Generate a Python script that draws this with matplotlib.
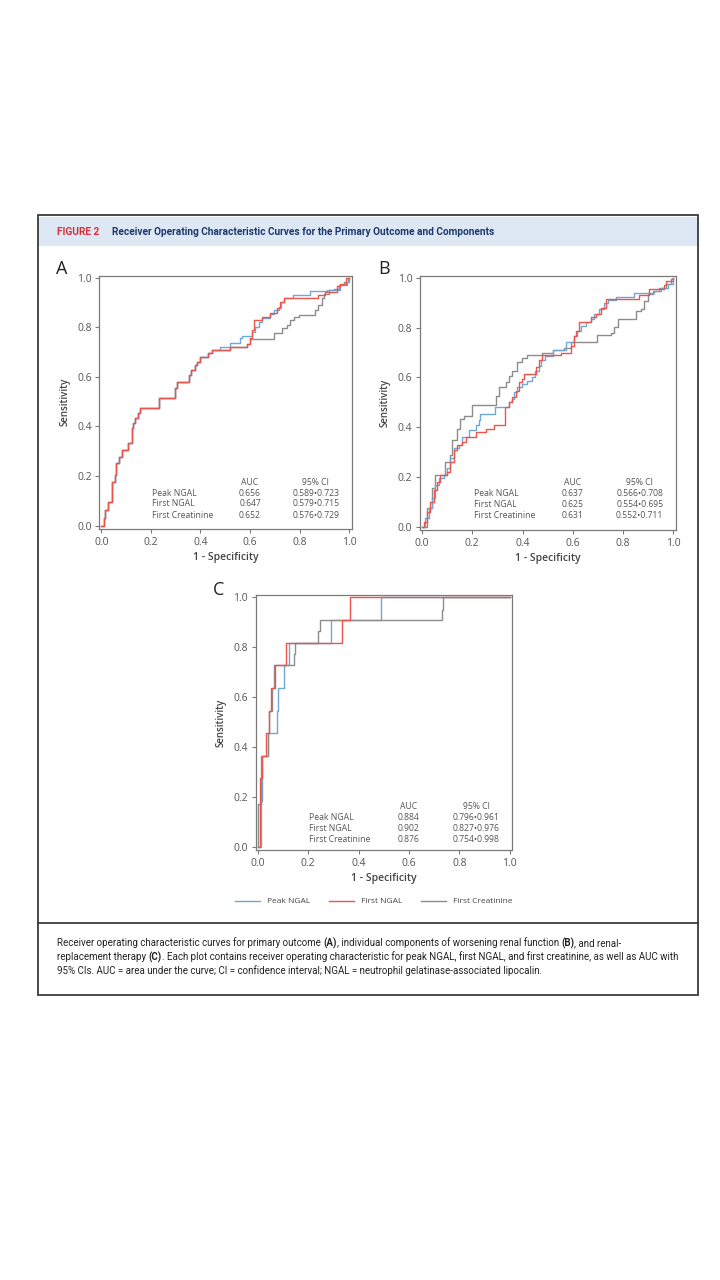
import matplotlib
matplotlib.use('Agg')
import matplotlib.pyplot as plt
from matplotlib.patches import Rectangle
from matplotlib.lines import Line2D

plt.rcParams['font.family'] = ['Open Sans', 'DejaVu Sans']

# ---- data: ROC steps (fpr, tpr) ----
# panel A - the three curves share the first part
a_base_fpr = [0, 0.011, 0.017, 0.027, 0.042, 0.044, 0.054, 0.060, 0.071, 0.084, 0.107, 0.122, 0.129,
              0.138, 0.147, 0.158, 0.232, 0.299, 0.306, 0.353, 0.362, 0.379, 0.386, 0.399, 0.429, 0.446]
a_base_tpr = [0, 0.030, 0.063, 0.097, 0.137, 0.177, 0.204, 0.251, 0.278, 0.305, 0.332, 0.392, 0.413,
              0.433, 0.453, 0.473, 0.516, 0.554, 0.581, 0.608, 0.628, 0.648, 0.661, 0.681, 0.695, 0.708]
a_peak_fpr = a_base_fpr + [0.478, 0.521, 0.561, 0.568, 0.608, 0.621, 0.635, 0.648, 0.680, 0.695, 0.715,
                           0.725, 0.735, 0.773, 0.843, 0.910, 0.964, 0.990, 1.0]
a_peak_tpr = a_base_tpr + [0.722, 0.738, 0.756, 0.765, 0.782, 0.802, 0.823, 0.840, 0.855, 0.870, 0.883,
                           0.903, 0.917, 0.933, 0.946, 0.953, 0.970, 0.984, 1.0]
a_first_fpr = a_base_fpr + [0.521, 0.588, 0.601, 0.608, 0.615, 0.648, 0.682, 0.709, 0.722, 0.735, 0.874,
                            0.903, 0.950, 0.964, 0.988, 1.0]
a_first_tpr = a_base_tpr + [0.722, 0.735, 0.756, 0.789, 0.832, 0.843, 0.859, 0.877, 0.903, 0.917, 0.930,
                            0.944, 0.967, 0.977, 0.998, 1.0]
a_creat_fpr = a_base_fpr + [0.521, 0.588, 0.601, 0.695, 0.729, 0.749, 0.762, 0.776, 0.796, 0.863, 0.876,
                            0.890, 0.897, 0.917, 0.937, 0.957, 0.977, 0.997, 1.0]
a_creat_tpr = a_base_tpr + [0.722, 0.735, 0.752, 0.776, 0.796, 0.809, 0.829, 0.843, 0.852, 0.870, 0.890,
                            0.917, 0.937, 0.950, 0.957, 0.970, 0.984, 0.998, 1.0]

# panel B
b_peak_fpr = [0, 0.013, 0.027, 0.040, 0.053, 0.066, 0.086, 0.100, 0.113, 0.126, 0.146, 0.160, 0.186, 0.213,
              0.226, 0.231, 0.291, 0.345, 0.358, 0.365, 0.378, 0.398, 0.418, 0.438, 0.451, 0.464, 0.473,
              0.490, 0.519, 0.572, 0.605, 0.618, 0.632, 0.652, 0.672, 0.685, 0.705, 0.725, 0.738, 0.771,
              0.844, 0.924, 0.951, 0.977, 0.997, 1.0]
b_peak_tpr = [0, 0.033, 0.073, 0.113, 0.167, 0.194, 0.207, 0.234, 0.274, 0.314, 0.327, 0.360, 0.387, 0.407,
              0.427, 0.454, 0.480, 0.500, 0.514, 0.541, 0.561, 0.574, 0.587, 0.601, 0.627, 0.647, 0.670,
              0.687, 0.712, 0.741, 0.768, 0.788, 0.808, 0.821, 0.834, 0.855, 0.875, 0.901, 0.910, 0.924,
              0.941, 0.948, 0.961, 0.974, 0.988, 1.0]
b_first_fpr = [0, 0.007, 0.020, 0.033, 0.047, 0.060, 0.073, 0.100, 0.113, 0.126, 0.140, 0.160, 0.173,
               0.213, 0.253, 0.286, 0.330, 0.346, 0.359, 0.372, 0.386, 0.399, 0.406, 0.452, 0.465, 0.479,
               0.552, 0.592, 0.605, 0.612, 0.625, 0.672, 0.691, 0.711, 0.731, 0.864, 0.904, 0.964, 0.971,
               0.991, 1.0]
b_first_tpr = [0, 0.020, 0.060, 0.100, 0.147, 0.180, 0.207, 0.220, 0.260, 0.307, 0.327, 0.340, 0.360,
               0.380, 0.394, 0.407, 0.480, 0.500, 0.520, 0.547, 0.580, 0.594, 0.614, 0.641, 0.668, 0.688,
               0.698, 0.728, 0.768, 0.788, 0.821, 0.841, 0.854, 0.881, 0.915, 0.931, 0.957, 0.970, 0.988,
               0.997, 1.0]
b_creat_fpr = [0, 0.020, 0.040, 0.053, 0.093, 0.113, 0.120, 0.140, 0.153, 0.166, 0.200, 0.293, 0.306,
               0.332, 0.346, 0.359, 0.379, 0.399, 0.419, 0.479, 0.519, 0.565, 0.591, 0.697, 0.751, 0.765,
               0.778, 0.851, 0.871, 0.884, 0.898, 0.918, 0.944, 0.971, 0.991, 1.0]
b_creat_tpr = [0, 0.073, 0.154, 0.207, 0.260, 0.287, 0.347, 0.394, 0.434, 0.443, 0.487, 0.527, 0.563,
               0.580, 0.607, 0.627, 0.663, 0.677, 0.690, 0.700, 0.710, 0.717, 0.744, 0.771, 0.780, 0.801,
               0.834, 0.868, 0.875, 0.908, 0.935, 0.948, 0.961, 0.975, 0.988, 1.0]

# panel C (11 events, steps of 1/11)
c_peak_fpr = [0, 0.012, 0.016, 0.039, 0.076, 0.081, 0.105, 0.125, 0.291, 0.490, 1.0]
c_peak_tpr = [0, 0.182, 0.364, 0.455, 0.545, 0.636, 0.727, 0.818, 0.909, 1.0, 1.0]
c_first_fpr = [0, 0.008, 0.010, 0.016, 0.032, 0.045, 0.054, 0.068, 0.112, 0.333, 0.368, 1.0]
c_first_tpr = [0, 0.091, 0.273, 0.364, 0.455, 0.545, 0.636, 0.727, 0.818, 0.909, 1.0, 1.0]
c_creat_fpr = [0, 0.002, 0.012, 0.039, 0.045, 0.058, 0.065, 0.142, 0.147, 0.238, 0.248, 0.730, 0.736, 1.0]
c_creat_tpr = [0, 0.170, 0.364, 0.455, 0.545, 0.636, 0.727, 0.773, 0.818, 0.864, 0.909, 0.950, 1.0, 1.0]

row_names = ['Peak NGAL', 'First NGAL', 'First Creatinine']
a_auc = ['0.656', '0.647', '0.652']
a_ci = ['0.589\u20220.723', '0.579\u20220.715', '0.576\u20220.729']
b_auc = ['0.637', '0.625', '0.631']
b_ci = ['0.566\u20220.708', '0.554\u20220.695', '0.552\u20220.711']
c_auc = ['0.884', '0.902', '0.876']
c_ci = ['0.796\u20220.961', '0.827\u20220.976', '0.754\u20220.998']

ticks = [0, 0.2, 0.4, 0.6, 0.8, 1.0]
tick_labels = ['0.0', '0.2', '0.4', '0.6', '0.8', '1.0']

blue = '#6ea7d8'
red = '#e8564c'
grey = '#8d8d8d'
axis_col = '#7a7a7a'
text_col = '#555555'

W, H = 720, 1280
fig = plt.figure(figsize=(7.2, 12.8), dpi=100)
renderer = fig.canvas.get_renderer()
cond = ['Roboto', 'DejaVu Sans']


def px_box(l, t, r, b):
    return [l / W, 1 - b / H, (r - l) / W, (b - t) / H]


def draw_panel(ax, curves, auc, ci, txt_y):
    for fpr, tpr, col, z in curves:
        ax.plot(fpr, tpr, drawstyle='steps-post', color=col, lw=1.0, zorder=z)
    ax.set_xlim(-0.008, 1.01)
    ax.set_ylim(-0.014, 1.009)
    ax.set_xticks(ticks)
    ax.set_xticklabels(tick_labels)
    ax.set_yticks(ticks)
    ax.set_yticklabels(tick_labels)
    for s in ax.spines.values():
        s.set_color(axis_col)
        s.set_linewidth(0.9)
    ax.tick_params(direction='out', length=3, width=0.8, color=axis_col,
                   labelsize=7.5, labelcolor=text_col, pad=2.5)
    ax.set_xlabel('1 - Specificity', fontsize=7.5, color='#444444', fontweight='semibold', labelpad=3)
    ax.set_ylabel('Sensitivity', fontsize=7, color='#444444', fontweight='semibold', labelpad=5)
    # little AUC table
    fs = 6.2
    ax.text(0.60, txt_y[0], 'AUC', fontsize=fs, ha='center', va='center', color=text_col)
    ax.text(0.866, txt_y[0], '95% CI', fontsize=fs, ha='center', va='center', color=text_col)
    for i in range(3):
        ax.text(0.205, txt_y[i + 1], row_names[i], fontsize=fs, ha='left', va='center', color=text_col)
        ax.text(0.60, txt_y[i + 1], auc[i], fontsize=fs, ha='center', va='center', color=text_col)
        ax.text(0.866, txt_y[i + 1], ci[i], fontsize=fs, ha='center', va='center', color=text_col)


def runs_width(runs, size, y):
    # draw the pieces side by side, return the artists and the total width in px
    arts = []
    x = 0
    for s, bold in runs:
        t = fig.text(0, 1 - y / H, s, fontsize=size, fontweight='bold' if bold else 'normal',
                     family=cond, va='center')
        arts.append(t)
        x += t.get_window_extent(renderer).width
    return arts, x


def place_runs(runs, x0, y, size, color):
    arts, _ = runs_width(runs, size, y)
    x = x0
    for t in arts:
        t.set_x(x / W)
        t.set_color(color)
        x += t.get_window_extent(renderer).width


axA = fig.add_axes(px_box(99.3, 275.7, 351.7, 529))
axB = fig.add_axes(px_box(420, 275.7, 676, 530))
axC = fig.add_axes(px_box(255.7, 595, 512.3, 850))

draw_panel(axA, [(a_creat_fpr, a_creat_tpr, grey, 2), (a_peak_fpr, a_peak_tpr, blue, 3),
                 (a_first_fpr, a_first_tpr, red, 4)], a_auc, a_ci, [0.175, 0.129, 0.087, 0.042])
draw_panel(axB, [(b_creat_fpr, b_creat_tpr, grey, 2), (b_peak_fpr, b_peak_tpr, blue, 3),
                 (b_first_fpr, b_first_tpr, red, 4)], b_auc, b_ci, [0.176, 0.131, 0.090, 0.044])
draw_panel(axC, [(c_peak_fpr, c_peak_tpr, blue, 2), (c_creat_fpr, c_creat_tpr, grey, 3),
                 (c_first_fpr, c_first_tpr, red, 4)], c_auc, c_ci, [0.160, 0.116, 0.072, 0.029])

for letter, x, y in [('A', 62, 269), ('B', 384, 269), ('C', 219, 590)]:
    fig.text(x / W, 1 - y / H, letter, fontsize=13, ha='center', va='center', color='#222222')

# legend
handles = [Line2D([], [], color=blue, lw=1.0), Line2D([], [], color=red, lw=1.0), Line2D([], [], color=grey, lw=1.0)]
leg = fig.legend(handles, ['Peak NGAL', 'First NGAL', 'First Creatinine'], loc='center',
                 bbox_to_anchor=(374 / W, 1 - 901.5 / H), ncol=3, frameon=False, fontsize=6,
                 handlelength=3.0, handletextpad=0.8, columnspacing=2.3)
for t in leg.get_texts():
    t.set_color('#444444')

# frame, header band, divider
fig.add_artist(Rectangle((39 / W, 1 - 246 / H), 658 / W, 29 / H, transform=fig.transFigure,
                         facecolor='#dde8f4', edgecolor='none', zorder=0))
fig.add_artist(Rectangle((38 / W, 1 - 995 / H), 660 / W, 780 / H, transform=fig.transFigure,
                         fill=False, edgecolor='#3a3a3a', lw=1.3))
fig.add_artist(Line2D([38 / W, 698 / W], [1 - 923 / H, 1 - 923 / H], transform=fig.transFigure,
                      color='#3a3a3a', lw=1.3))

# header, sized so the runs span the same width as in the picture
head_a = [('FIGURE 2', True)]
head_b = [('Receiver Operating Characteristic Curves for the Primary Outcome and Components', True)]
tmp, wb = runs_width(head_b, 7, 232)
for t in tmp:
    t.remove()
size_head = 7 * 384 / wb
place_runs(head_a, 57, 232, size_head, '#d7303b')
place_runs(head_b, 112.5, 232, size_head, '#1d3a6e')

# caption with bold panel letters
caption = [
    [('Receiver operating characteristic curves for primary outcome ', False), ('(A)', True),
     (', individual components of worsening renal function ', False), ('(B)', True), (', and renal-', False)],
    [('replacement therapy ', False), ('(C)', True),
     ('. Each plot contains receiver operating characteristic for peak NGAL, first NGAL, and first creatinine, as well as AUC with', False)],
    [('95% CIs. AUC = area under the curve; CI = confidence interval; NGAL = neutrophil gelatinase-associated lipocalin.', False)],
]
tmp, w2 = runs_width(caption[1], 7, 957)
for t in tmp:
    t.remove()
size_cap = 7 * 623 / w2
for line, y in zip(caption, [943, 957, 971]):
    place_runs(line, 57, y, size_cap, '#222222')

fig.savefig('out.png', dpi=100, facecolor='white')
